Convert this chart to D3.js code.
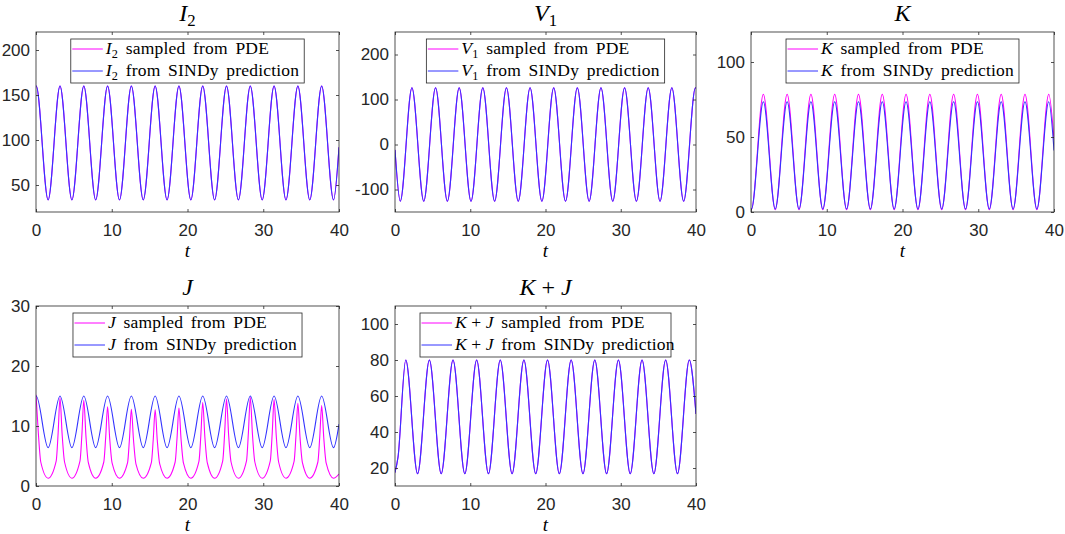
<!DOCTYPE html>
<html>
<head>
<meta charset="utf-8">
<script src="https://cdn.jsdelivr.net/npm/d3@7"></script>
<style>
  body { margin: 0; background: #fff; }
  svg { display: block; }
  text { white-space: pre; }
</style>
</head>
<body>
<svg width="1065" height="534"></svg>
<script>
const svg = d3.select("svg")

// ---- values ----
const xTicks = [0, 10, 20, 30, 40]
const i2Ticks = [50, 100, 150, 200]
const v1Ticks = [-100, 0, 100, 200]
const kTicks = [0, 50, 100]
const jTicks = [0, 10, 20, 30]
const kjTicks = [20, 40, 60, 80, 100]

// I2 and J (SINDy) share the same peak / trough times
const i2Time = [0, 0.03,
  1.60, 3.17, 4.74, 6.31, 7.88, 9.45, 11.02, 12.59, 14.16, 15.73, 17.30, 18.87,
  20.44, 22.01, 23.58, 25.15, 26.72, 28.29, 29.86, 31.43, 33.00, 34.57, 36.14, 37.71,
  39.28, 40]
const i2Pde = [159.8, 160,
  33.5, 160, 33.5, 160, 33.5, 160, 33.5, 160, 33.5, 160, 33.5, 160,
  33.5, 160, 33.5, 160, 33.5, 160, 33.5, 160, 33.5, 160, 33.5, 160,
  33.5, 92]
const i2Sindy = [159.8, 160,
  33.5, 160, 33.5, 160, 33.5, 160, 33.5, 160, 33.5, 160, 33.5, 160,
  33.5, 160, 33.5, 160, 33.5, 160, 33.5, 160, 33.5, 160, 33.5, 160,
  33.5, 92]

const v1Time = [0,
  0.70, 2.25, 3.82, 5.39, 6.96, 8.53, 10.10, 11.67, 13.24, 14.81, 16.38, 17.95, 19.52,
  21.09, 22.66, 24.23, 25.80, 27.37, 28.94, 30.51, 32.08, 33.65, 35.22, 36.79, 38.36,
  39.93, 40]
const v1Pde = [-12,
  -126, 126, -126, 126, -126, 126, -126, 126, -126, 126, -126, 126, -126,
  126, -126, 126, -126, 126, -126, 126, -126, 126, -126, 126, -126,
  126, 125]
const v1Sindy = [-12,
  -126, 126, -126, 126, -126, 126, -126, 126, -126, 126, -126, 126, -126,
  126, -126, 126, -126, 126, -126, 126, -126, 126, -126, 126, -126,
  126, 125]

const kTime = [0, 0.06,
  1.63, 3.20, 4.77, 6.34, 7.91, 9.48, 11.05, 12.62, 14.19, 15.76, 17.33, 18.90,
  20.47, 22.04, 23.61, 25.18, 26.75, 28.32, 29.89, 31.46, 33.03, 34.60, 36.17, 37.74,
  39.31, 40]
const kPde = [2.3, 1.8,
  78.5, 1.5, 78.5, 1.5, 78.5, 1.5, 78.5, 1.5, 78.5, 1.5, 78.5, 1.5,
  78.5, 1.5, 78.5, 1.5, 78.5, 1.5, 78.5, 1.5, 78.5, 1.5, 78.5, 1.5,
  78.5, 48]
const kSindy = [2.5, 2.0,
  73.5, 2.0, 73.5, 2.0, 73.5, 2.0, 73.5, 2.0, 73.5, 2.0, 73.5, 2.0,
  73.5, 2.0, 73.5, 2.0, 73.5, 2.0, 73.5, 2.0, 73.5, 2.0, 73.5, 2.0,
  73.5, 41]

const jSindy = [14.9, 15,
  6.4, 15, 6.4, 15, 6.4, 15, 6.4, 15, 6.4, 15, 6.4, 15,
  6.4, 15, 6.4, 15, 6.4, 15, 6.4, 15, 6.4, 15, 6.4, 15,
  6.4, 10.3]

const jPdeTime = [
  0, 0.31, 0.63, 1.60,
  2.67, 2.92, 3.17, 3.45, 3.77, 4.74,
  5.81, 6.06, 6.31, 6.59, 6.91, 7.88,
  8.95, 9.20, 9.45, 9.73, 10.05, 11.02,
  12.09, 12.34, 12.59, 12.87, 13.19, 14.16,
  15.23, 15.48, 15.73, 16.01, 16.33, 17.30,
  18.37, 18.62, 18.87, 19.15, 19.47, 20.44,
  21.51, 21.76, 22.01, 22.29, 22.61, 23.58,
  24.65, 24.90, 25.15, 25.43, 25.75, 26.72,
  27.79, 28.04, 28.29, 28.57, 28.89, 29.86,
  30.93, 31.18, 31.43, 31.71, 32.03, 33.00,
  34.07, 34.32, 34.57, 34.85, 35.17, 36.14,
  37.21, 37.46, 37.71, 37.99, 38.31, 39.28,
  40]
const jPde = [
  15.2, 8.8, 4.0, 1.3,
  4.2, 8.8, 14.7, 8.6, 4.0, 1.3,
  4.2, 8.6, 14.3, 8.4, 3.9, 1.3,
  4.0, 8.1, 13.2, 7.9, 3.8, 1.3,
  3.9, 7.9, 12.8, 7.7, 3.7, 1.3,
  3.9, 7.8, 12.7, 7.6, 3.7, 1.3,
  4.0, 8.0, 13.0, 7.8, 3.8, 1.3,
  4.1, 8.4, 13.9, 8.2, 3.9, 1.3,
  4.2, 8.7, 14.5, 8.5, 4.0, 1.3,
  4.2, 8.9, 14.8, 8.7, 4.0, 1.3,
  4.2, 8.7, 14.4, 8.5, 4.0, 1.3,
  4.1, 8.4, 13.8, 8.2, 3.9, 1.3,
  4.0, 8.2, 13.4, 8.0, 3.8, 1.3,
  2.0]

const kjTime = [0, 0.40,
  1.43, 3.00, 4.57, 6.14, 7.71, 9.28, 10.85, 12.42, 13.99, 15.56, 17.13, 18.70,
  20.27, 21.84, 23.41, 24.98, 26.55, 28.12, 29.69, 31.26, 32.83, 34.40, 35.97, 37.54,
  39.11, 40]
const kjPde = [17.5, 26,
  80, 16.8, 80, 16.8, 80, 16.8, 80, 16.8, 80, 16.8, 80, 16.8,
  80, 16.8, 80, 16.8, 80, 16.8, 80, 16.8, 80, 16.8, 80, 16.8,
  80, 50]
const kjSindy = [17.5, 26,
  80, 16.8, 80, 16.8, 80, 16.8, 80, 16.8, 80, 16.8, 80, 16.8,
  80, 16.8, 80, 16.8, 80, 16.8, 80, 16.8, 80, 16.8, 80, 16.8,
  80, 50]

// ---- layout / style ----
const pdeColor = "#ff00ff"
const sindyColor = "#3333ff"
const axisColor = "#262626"
const sansFont = "'Liberation Sans', Arial, sans-serif"
const serifFont = "'Liberation Serif', 'Times New Roman', serif"

const panels = [
  {
    name: [{ t: "I", it: true }, { t: "2", sub: true }],
    left: 36, right: 339, top: 32, bottom: 212,
    yDomain: [20, 220], yTicks: i2Ticks,
    pde: d3.zip(i2Time, i2Pde), sindy: d3.zip(i2Time, i2Sindy),
  },
  {
    name: [{ t: "V", it: true }, { t: "1", sub: true }],
    left: 395, right: 696, top: 32, bottom: 212,
    yDomain: [-150, 250], yTicks: v1Ticks,
    pde: d3.zip(v1Time, v1Pde), sindy: d3.zip(v1Time, v1Sindy),
  },
  {
    name: [{ t: "K", it: true }],
    left: 751, right: 1054, top: 32, bottom: 212,
    yDomain: [0, 120], yTicks: kTicks,
    pde: d3.zip(kTime, kPde), sindy: d3.zip(kTime, kSindy),
  },
  {
    name: [{ t: "J", it: true }],
    left: 36, right: 339, top: 306, bottom: 486,
    yDomain: [0, 30], yTicks: jTicks,
    pde: d3.zip(jPdeTime, jPde), sindy: d3.zip(i2Time, jSindy),
  },
  {
    name: [{ t: "K", it: true }, { t: "+", gap: 0.25 }, { t: "J", it: true, gap: 0.25 }],
    left: 395, right: 696, top: 306, bottom: 486,
    yDomain: [10, 110], yTicks: kjTicks,
    pde: d3.zip(kjTime, kjPde), sindy: d3.zip(kjTime, kjSindy),
  },
]

// write a small LaTeX-like run of italic / subscript pieces into a <text>
const writeMath = (text, parts, size) => {
  let shifted = 0
  parts.forEach((p) => {
    const ts = text.append("tspan").text(p.t)
    if (p.it) ts.attr("font-style", "italic")
    if (p.gap) ts.attr("dx", p.gap * size)
    if (p.sub) {
      ts.attr("font-size", size * 0.7).attr("dy", size * 0.2)
      shifted = size * 0.2
    } else if (shifted) {
      ts.attr("dy", -shifted)
      shifted = 0
    }
  })
}

const styleAxis = (axisG) => {
  axisG.select(".domain").remove()
  axisG.selectAll("line").attr("stroke", axisColor).attr("stroke-width", 0.8)
  axisG
    .selectAll("text")
    .attr("font-family", sansFont)
    .attr("font-size", 17)
    .attr("fill", axisColor)
}

const render = () => {
  panels.forEach((p, idx) => {
    const xScale = d3.scaleLinear().domain([0, 40]).range([p.left, p.right])
    const yScale = d3.scaleLinear().domain(p.yDomain).range([p.bottom, p.top])
    const cx = (p.left + p.right) / 2
    const g = svg.append("g")

    g.append("clipPath")
      .attr("id", `clip${idx}`)
      .append("rect")
      .attr("x", p.left)
      .attr("y", p.top)
      .attr("width", p.right - p.left)
      .attr("height", p.bottom - p.top)

    const line = d3
      .line()
      .x((d) => xScale(d[0]))
      .y((d) => yScale(d[1]))
      .curve(d3.curveMonotoneX)

    //curves: PDE first, SINDy on top
    g.append("path")
      .datum(p.pde)
      .attr("clip-path", `url(#clip${idx})`)
      .attr("fill", "none")
      .attr("stroke", pdeColor)
      .attr("stroke-width", 1.1)
      .attr("d", line)
    g.append("path")
      .datum(p.sindy)
      .attr("clip-path", `url(#clip${idx})`)
      .attr("fill", "none")
      .attr("stroke", sindyColor)
      .attr("stroke-width", 1.1)
      .attr("d", line)

    //axes, ticks pointing inward on all four sides
    const leftG = g.append("g")
      .attr("transform", `translate(${p.left},0)`)
      .call(d3.axisLeft(yScale).tickValues(p.yTicks).tickSize(-3).tickPadding(6).tickFormat(String))
    const rightG = g.append("g")
      .attr("transform", `translate(${p.right},0)`)
      .call(d3.axisRight(yScale).tickValues(p.yTicks).tickSize(-3).tickFormat(""))
    const bottomG = g.append("g")
      .attr("transform", `translate(0,${p.bottom})`)
      .call(d3.axisBottom(xScale).tickValues(xTicks).tickSize(-3).tickPadding(12).tickFormat(String))
    const topG = g.append("g")
      .attr("transform", `translate(0,${p.top})`)
      .call(d3.axisTop(xScale).tickValues(xTicks).tickSize(-3).tickFormat(""))
    ;[leftG, rightG, bottomG, topG].forEach(styleAxis)

    g.append("rect")
      .attr("x", p.left)
      .attr("y", p.top)
      .attr("width", p.right - p.left)
      .attr("height", p.bottom - p.top)
      .attr("fill", "none")
      .attr("stroke", axisColor)
      .attr("stroke-width", 0.8)

    //x label
    g.append("text")
      .attr("x", cx)
      .attr("y", p.bottom + 45)
      .attr("text-anchor", "middle")
      .attr("font-family", serifFont)
      .attr("font-style", "italic")
      .attr("font-size", 19)
      .text("t")

    //title
    const title = g.append("text")
      .attr("x", cx)
      .attr("y", p.top - 11)
      .attr("text-anchor", "middle")
      .attr("font-family", serifFont)
      .attr("font-size", 24)
    writeMath(title, p.name, 24)

    //legend
    const lg = g.append("g")
    const box = lg.append("rect")
    const rows = [
      { suffix: " sampled from PDE", color: pdeColor },
      { suffix: " from SINDy prediction", color: sindyColor },
    ]
    const texts = rows.map((r, i) => {
      const t = lg.append("text")
        .attr("y", p.top + 17 + i * 22 + 5)
        .attr("font-family", serifFont)
        .attr("font-size", 17.5)
        .attr("letter-spacing", 0.2)
        .attr("word-spacing", 3)
      writeMath(t, [...p.name, { t: r.suffix }], 17.5)
      return t
    })
    const textW = d3.max(texts, (t) => t.node().getComputedTextLength())
    const legW = 35 + textW + 5
    const legL = cx - legW / 2
    box.attr("x", legL)
      .attr("y", p.top + 7)
      .attr("width", legW)
      .attr("height", 44)
      .attr("fill", "#fff")
      .attr("stroke", axisColor)
      .attr("stroke-width", 0.8)
    rows.forEach((r, i) => {
      lg.append("line")
        .attr("x1", legL + 1.5)
        .attr("x2", legL + 32)
        .attr("y1", p.top + 17 + i * 22)
        .attr("y2", p.top + 17 + i * 22)
        .attr("stroke", r.color)
        .attr("stroke-width", 1)
      texts[i].attr("x", legL + 35)
    })
  })
}

render()
</script>
</body>
</html>
